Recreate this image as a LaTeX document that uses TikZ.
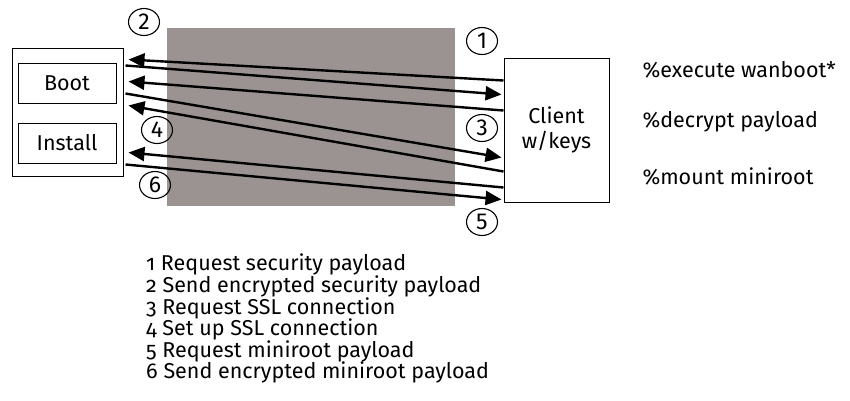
\documentclass[tikz,border=0pt]{standalone}
\usepackage{fontspec}
\setmainfont{Fira Sans}
\newfontfamily\oldnums[Numbers=OldStyle]{Fira Sans}
\usepackage{tikz}
\usetikzlibrary{
arrows.meta,
positioning,
shapes.geometric,
}
\definecolor{wallgray}{RGB}{155,147,145}

\begin{document}
\begin{tikzpicture}[x=1pt, y=-1pt,
		box/.style={draw, line width=1pt, inner sep=0pt},
		msg/.style={line width=2.4pt, -{Triangle[length=16pt, width=14pt]}},
		num/.style={draw, ellipse, line width=1.1pt, inner sep=0pt, minimum width=31pt, minimum height=27pt, font=\fontsize{23}{23}\selectfont},
		note/.style={anchor=west, font=\fontsize{21.5}{21.5}\selectfont},
	]
					      \useasboundingbox (0,0) rectangle (850,400);
					      \fill[wallgray] (167,28) rectangle (455,206);

					      \node[box, minimum width=111pt, minimum height=128pt] (host) at (67.5,112) {};
					      \node[box, minimum width=98pt, minimum height=40pt, font=\fontsize{21.5}{21.5}\selectfont] (boot) at (67,83) {Boot};
					      \node[box, minimum width=98pt, minimum height=40pt, font=\fontsize{21.5}{21.5}\selectfont] (install) at (67,143) {Install};
					      \node[box, minimum width=105pt, minimum height=144pt, align=center, font=\fontsize{21.5}{25}\selectfont] (client) at (556.5,130) {Client\\w/keys};

					      \draw[msg] ([yshift=-23pt]client.north west) -- ([xshift=5pt,yshift=-12pt]host.north east);
					      \draw[msg] ([xshift=2pt,yshift=-18pt]host.north east) -- ([xshift=-2pt,yshift=-37pt]client.north west);
					      \draw[msg] ([yshift=-53pt]client.north west) -- ([xshift=5pt,yshift=-34pt]host.north east);
					      \draw[msg] ([xshift=2pt,yshift=-46pt]host.north east) -- ([xshift=-2pt,yshift=-100pt]client.north west);
					      \draw[msg] ([yshift=-114pt]client.north west) -- ([xshift=5pt,yshift=-58pt]host.north east);
					      \draw[msg] ([yshift=-130pt]client.north west) -- ([xshift=5pt,yshift=-105pt]host.north east);
					      \draw[msg] ([xshift=2pt,yshift=-117pt]host.north east) -- ([xshift=-2pt,yshift=-142pt]client.north west);

					      \node[num] (n1) at (482,41) {1};
					      \node[num] (n2) at (144,22) {2};
					      \node[num] (n3) at (482,128) {3};
					      \node[num] (n4) at (157,130) {4};
					      \node[num] (n5) at (482,222) {5};
					      \node[num] (n6) at (155,185) {6};

					      \node[note] (wanboot) at (639,70) {\%execute wanboot*};
					      \node[note] (decrypt) at (639,122) {\%decrypt payload};
					      \node[note] (mount) at (639,176) {\%mount miniroot};

					      \node[anchor=north west, align=left, inner sep=0pt, font=\fontsize{21.5}{21.6}\selectfont\oldnums] (steps) at (146,254) {
					      	1 Request security payload\\
					      	2 Send encrypted security payload\\
					      	3 Request SSL connection\\
					      	4 Set up SSL connection\\
					      	5 Request miniroot payload\\
					      	6 Send encrypted miniroot payload};

				      \end{tikzpicture}
\end{document}
